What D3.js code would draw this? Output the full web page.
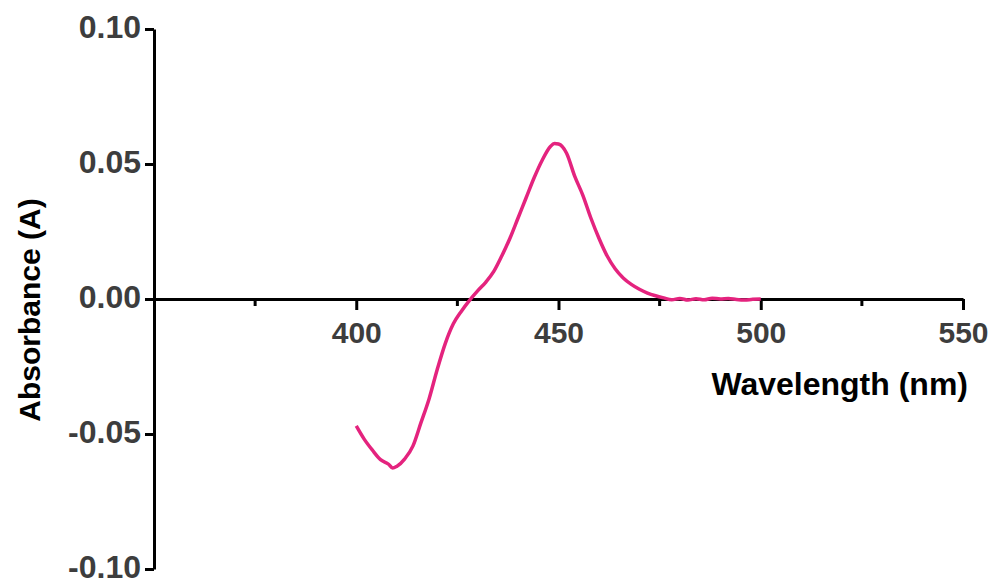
<!DOCTYPE html>
<html>
<head>
<meta charset="utf-8">
<script src="https://cdn.jsdelivr.net/npm/d3@7"></script>
<style>
  body { margin: 0; background: #fff; }
  svg { display: block; }
  text { font-family: "Liberation Sans", Arial, sans-serif; font-weight: bold; }
</style>
</head>
<body>
<svg id="chart"></svg>
<script>
// Difference absorbance spectrum
const wavelengths = [
  400, 402, 404, 406, 408, 409, 410, 412, 414, 416, 418, 420, 422, 424, 426, 428,
  430, 432, 434, 436, 438, 440, 442, 444, 446, 448, 449, 450, 452, 454, 456, 458,
  460, 462, 464, 466, 468, 470, 472, 474, 476, 478, 480, 482, 484, 486, 488, 490,
  492, 494, 496, 498, 500
];
const absorbance = [
  -0.0470, -0.0520, -0.0560, -0.0595, -0.0612, -0.0626, -0.0620, -0.0592, -0.0545, -0.0458, -0.0370, -0.0262, -0.0165, -0.0092, -0.0045, -0.0005,
  0.0030, 0.0062, 0.0102, 0.0160, 0.0225, 0.0300, 0.0375, 0.0450, 0.0515, 0.0565, 0.0576, 0.0574, 0.0540, 0.0455, 0.0385, 0.0300,
  0.0225, 0.0160, 0.0112, 0.0078, 0.0054, 0.0036, 0.0022, 0.0012, 0.0004, -0.0003, 0.0002, -0.0004, 0.0001, -0.0003, 0.0003, 0.0000,
  0.0002, -0.0002, -0.0004, -0.0001, 0.0000
];
const xMajorTicks = [400, 450, 500, 550];
const xMinorTicks = [375, 425, 475, 525];
const yTicks = [-0.10, -0.05, 0.00, 0.05, 0.10];

const width = 994, height = 581;
const lineColor = "#e4237e";

function createChart() {
    const svg = d3.select("#chart")
        .attr("width", width)
        .attr("height", height);

    const x = d3.scaleLinear().domain([350, 550]).range([154, 963]);
    const y = d3.scaleLinear().domain([-0.10, 0.10]).range([569, 29]);

    // X axis (through zero)
    const xAxis = svg.append("g")
        .attr("transform", `translate(0,${y(0)})`)
        .call(d3.axisBottom(x).tickValues(xMajorTicks).tickSize(11).tickSizeOuter(0).tickPadding(12));
    xAxis.select(".domain").attr("stroke", "#000").attr("stroke-width", 3);
    xAxis.selectAll(".tick line").attr("stroke", "#000").attr("stroke-width", 3);
    xAxis.selectAll(".tick text")
        .attr("fill", "#3d3d3d")
        .style("font-size", "30px");

    svg.append("g")
        .attr("transform", `translate(0,${y(0)})`)
        .selectAll("line")
        .data(xMinorTicks)
        .enter()
        .append("line")
        .attr("x1", d => x(d))
        .attr("x2", d => x(d))
        .attr("y1", 0)
        .attr("y2", 7)
        .attr("stroke", "#000")
        .attr("stroke-width", 3);

    // Y axis
    const yAxis = svg.append("g")
        .attr("transform", `translate(${x(350)},0)`)
        .call(d3.axisLeft(y).tickValues(yTicks).tickSize(9).tickSizeOuter(0).tickPadding(4)
            .tickFormat(d => d.toFixed(2)));
    yAxis.select(".domain").attr("stroke", "#000").attr("stroke-width", 3);
    yAxis.selectAll(".tick line").attr("stroke", "#000").attr("stroke-width", 3);
    yAxis.selectAll(".tick text")
        .attr("fill", "#3d3d3d")
        .attr("dy", "0.26em")
        .style("font-size", "32px");

    // Titles
    svg.append("text")
        .attr("x", 968)
        .attr("y", 395)
        .attr("text-anchor", "end")
        .style("font-size", "32px")
        .attr("fill", "#000")
        .text("Wavelength (nm)");

    svg.append("text")
        .attr("transform", `translate(40,310) rotate(-90)`)
        .attr("text-anchor", "middle")
        .style("font-size", "30px")
        .attr("fill", "#000")
        .text("Absorbance (A)");

    // Spectrum
    const points = wavelengths.map((w, i) => [w, absorbance[i]]);
    const line = d3.line()
        .x(d => x(d[0]))
        .y(d => y(d[1]))
        .curve(d3.curveMonotoneX);

    svg.append("path")
        .datum(points)
        .attr("fill", "none")
        .attr("stroke", lineColor)
        .attr("stroke-width", 3.5)
        .attr("stroke-linejoin", "round")
        .attr("d", line);
}

window.onload = createChart;
</script>
</body>
</html>
